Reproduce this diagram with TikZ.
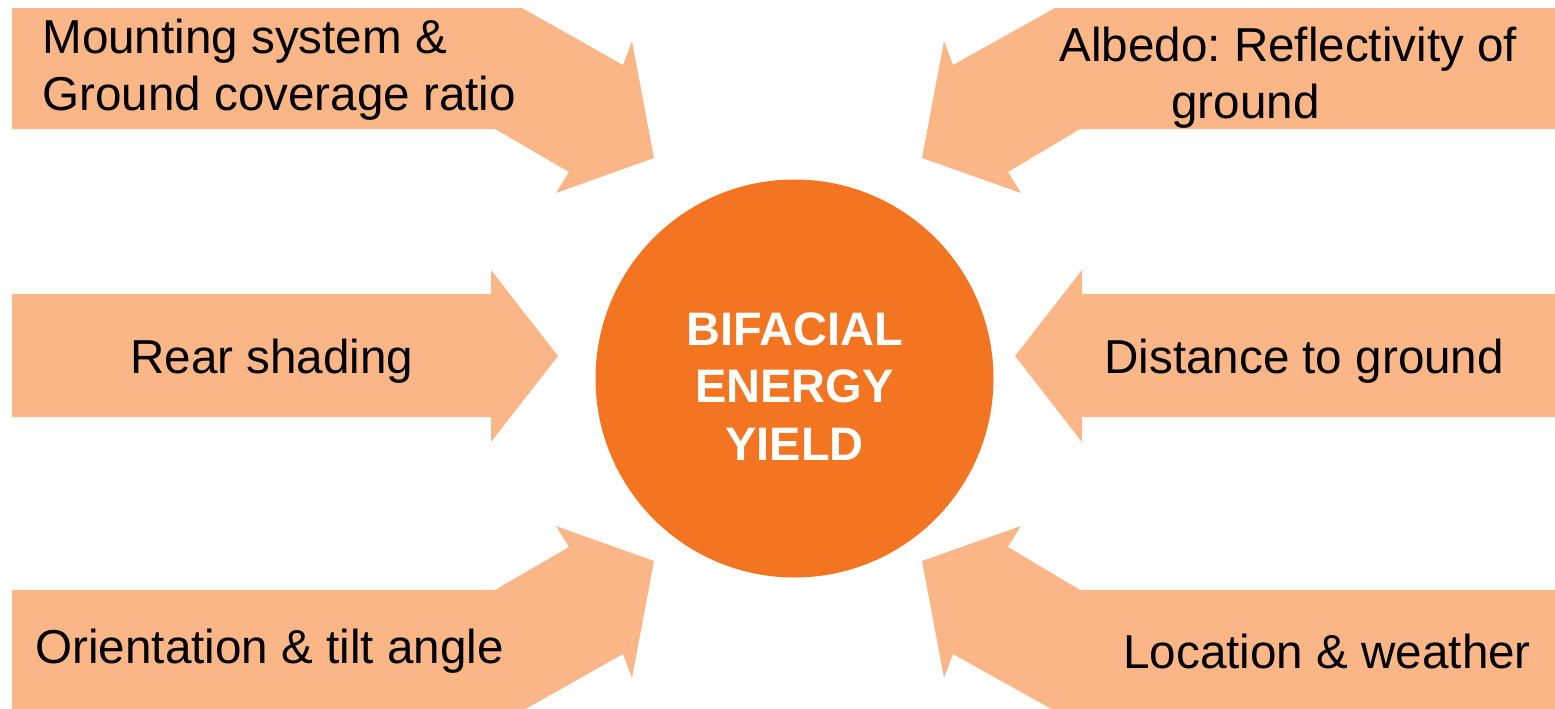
\documentclass[tikz,border=0pt]{standalone}
\usepackage{fontspec}
\setmainfont{Liberation Sans}
\frenchspacing
\definecolor{factorfill}{RGB}{250,182,135}
\definecolor{yieldfill}{RGB}{243,116,33}
\tikzset{
  factor/.style={fill=factorfill},
  factortext/.style={font=\fontsize{23.8pt}{28.5pt}\selectfont, inner sep=0pt, align=left},
  yieldtext/.style={font=\fontsize{23.5pt}{28.7pt}\selectfont\bfseries, text=white, inner sep=0pt, align=center}
}
\begin{document}
\begin{tikzpicture}[x=0.5pt,y=-0.5pt]
    \useasboundingbox (0,0) rectangle (1555,708);
    % arrows, left side
    \fill[factor] (12,8) -- (522,8) -- (623,65) -- (632,41) -- (654,158) -- (556,193) -- (569,172) -- (495,129) -- (12,129) -- cycle;
    \fill[factor] (12,294) -- (491,294) -- (491,270) -- (558,356) -- (491,442) -- (491,417) -- (12,417) -- cycle;
    \fill[factor] (12,590) -- (495,590) -- (569,547) -- (556,526) -- (654,561) -- (632,678) -- (623,654) -- (522,711) -- (12,711) -- cycle;
    % arrows, right side
    \fill[factor] (1555,8) -- (1055,8) -- (953,65) -- (944,41) -- (922,158) -- (1021,193) -- (1008,172) -- (1080,129) -- (1555,129) -- cycle;
    \fill[factor] (1555,294) -- (1082,294) -- (1082,270) -- (1015,356) -- (1082,442) -- (1082,417) -- (1555,417) -- cycle;
    \fill[factor] (1555,590) -- (1080,590) -- (1008,547) -- (1021,526) -- (922,561) -- (944,678) -- (953,654) -- (1055,711) -- (1555,711) -- cycle;
    % centre
    \node[circle, fill=yieldfill, minimum size=199pt, inner sep=0pt] (yield) at (794.5,378.5) {};
    \node[yieldtext, anchor=base] (yieldA) at (794.5,345) {BIFACIAL};
    \node[yieldtext, anchor=base] (yieldB) at (794.5,402) {ENERGY};
    \node[yieldtext, anchor=base] (yieldC) at (794.5,460) {YIELD};
    % labels
    \node[factortext, anchor=base west] (mount) at (42,110) {Mounting system \&\\Ground coverage ratio};
    \node[factortext, anchor=base west] (albedo) at (1059,118) {Albedo: Reflectivity of\\\hspace*{56pt}ground};
    \node[factortext, anchor=base west] (rear) at (130,373) {Rear shading};
    \node[factortext, anchor=base west] (dist) at (1104,373) {Distance to ground};
    \node[factortext, anchor=base west] (orient) at (35,663) {Orientation \& tilt angle};
    \node[factortext, anchor=base west] (loc) at (1123,668) {Location \& weather};
  \end{tikzpicture}
\end{document}
